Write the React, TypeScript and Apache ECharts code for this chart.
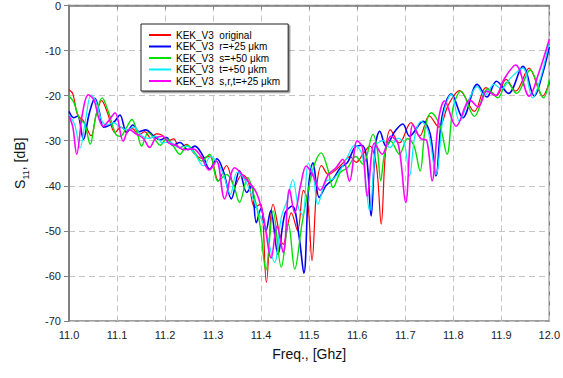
import React, { useEffect, useRef } from "react";
import * as echarts from "echarts";

type Pt = [number, number];

const seriesNames = [
  "KEK_V3  original",
  "KEK_V3  r=+25 μkm",
  "KEK_V3  s=+50 μkm",
  "KEK_V3  t=+50 μkm",
  "KEK_V3  s,r,t=+25 μkm",
];

const original: Pt[] = [
  [11.000,-18.7],[11.008,-19.6],[11.018,-24.3],[11.030,-25.6],[11.046,-28.9],[11.057,-24.0],[11.068,-21.1],[11.080,-23.8],[11.096,-28.2],[11.108,-27.0],[11.120,-27.9],[11.132,-27.3],[11.145,-28.7],[11.158,-28.0],[11.170,-29.4],[11.182,-28.5],[11.194,-28.8],[11.206,-30.0],[11.218,-29.6],[11.230,-31.6],[11.245,-30.8],[11.260,-32.8],[11.277,-33.9],[11.293,-33.4],[11.311,-38.9],[11.328,-35.5],[11.345,-40.0],[11.360,-37.5],[11.372,-38.6],[11.387,-44.8],[11.399,-44.0],[11.411,-61.4],[11.425,-44.1],[11.446,-53.0],[11.463,-46.0],[11.476,-50.0],[11.488,-41.0],[11.497,-43.5],[11.506,-56.6],[11.516,-40.0],[11.526,-35.5],[11.540,-37.5],[11.555,-36.5],[11.570,-35.0],[11.585,-33.5],[11.598,-34.8],[11.612,-33.0],[11.626,-31.2],[11.640,-35.5],[11.650,-48.5],[11.659,-32.5],[11.669,-27.6],[11.688,-30.5],[11.712,-26.0],[11.730,-29.0],[11.750,-24.5],[11.770,-27.0],[11.790,-22.0],[11.813,-18.9],[11.844,-23.5],[11.868,-18.2],[11.890,-20.0],[11.910,-16.4],[11.930,-19.0],[11.958,-13.9],[11.986,-20.1],[12.000,-17.0],
];

const r25: Pt[] = [
  [11.000,-23.5],[11.010,-24.9],[11.018,-24.5],[11.030,-29.7],[11.042,-24.0],[11.054,-20.6],[11.063,-23.5],[11.072,-27.0],[11.085,-26.5],[11.096,-25.6],[11.106,-24.3],[11.120,-28.2],[11.133,-26.5],[11.146,-28.0],[11.160,-27.6],[11.175,-28.8],[11.190,-29.8],[11.203,-29.3],[11.216,-31.0],[11.231,-30.4],[11.248,-32.0],[11.262,-31.2],[11.278,-33.2],[11.293,-36.3],[11.308,-34.0],[11.322,-37.0],[11.338,-42.9],[11.355,-36.7],[11.370,-41.5],[11.380,-40.0],[11.390,-48.2],[11.400,-45.0],[11.410,-50.0],[11.420,-45.5],[11.435,-55.2],[11.450,-46.0],[11.465,-44.5],[11.478,-50.5],[11.489,-59.4],[11.499,-40.0],[11.508,-34.9],[11.521,-42.6],[11.535,-40.0],[11.550,-38.5],[11.565,-36.0],[11.580,-34.8],[11.595,-31.5],[11.610,-31.0],[11.620,-34.0],[11.629,-46.7],[11.638,-31.0],[11.647,-27.9],[11.660,-31.2],[11.678,-28.0],[11.695,-26.3],[11.709,-29.0],[11.737,-25.7],[11.752,-28.5],[11.764,-37.8],[11.777,-24.5],[11.796,-19.6],[11.820,-24.9],[11.850,-17.5],[11.870,-20.3],[11.890,-16.8],[11.915,-19.5],[11.945,-13.5],[11.969,-20.1],[11.985,-15.5],[12.000,-9.2],
];

const s50: Pt[] = [
  [11.000,-20.1],[11.010,-21.5],[11.022,-25.2],[11.033,-26.3],[11.044,-30.8],[11.056,-24.5],[11.069,-20.5],[11.082,-23.6],[11.097,-28.5],[11.107,-29.0],[11.120,-27.0],[11.131,-25.3],[11.142,-28.2],[11.151,-31.2],[11.165,-28.2],[11.178,-29.6],[11.190,-31.0],[11.203,-29.6],[11.216,-31.0],[11.231,-33.0],[11.246,-31.0],[11.260,-32.4],[11.276,-34.5],[11.293,-33.0],[11.310,-39.0],[11.328,-37.5],[11.343,-40.0],[11.355,-43.7],[11.372,-38.2],[11.386,-42.5],[11.398,-49.0],[11.410,-58.7],[11.425,-45.5],[11.442,-58.1],[11.457,-48.5],[11.470,-58.5],[11.485,-48.5],[11.500,-40.0],[11.512,-35.0],[11.525,-32.7],[11.538,-36.0],[11.550,-40.4],[11.565,-37.0],[11.580,-36.0],[11.597,-33.5],[11.612,-35.2],[11.633,-28.6],[11.642,-32.0],[11.649,-38.9],[11.657,-33.0],[11.670,-30.1],[11.688,-33.0],[11.705,-29.5],[11.718,-31.0],[11.731,-36.7],[11.742,-27.0],[11.754,-23.8],[11.772,-26.5],[11.787,-33.0],[11.800,-22.5],[11.816,-19.0],[11.844,-24.6],[11.872,-18.5],[11.893,-20.5],[11.912,-17.0],[11.932,-19.5],[11.960,-14.3],[11.988,-20.5],[12.000,-16.4],
];

const t50: Pt[] = [
  [11.000,-24.2],[11.012,-26.5],[11.023,-31.6],[11.035,-25.0],[11.046,-19.8],[11.057,-21.5],[11.068,-25.5],[11.080,-26.5],[11.092,-26.0],[11.105,-26.8],[11.120,-27.6],[11.135,-27.0],[11.150,-28.8],[11.165,-29.5],[11.180,-29.0],[11.195,-30.5],[11.210,-30.3],[11.228,-31.5],[11.245,-31.2],[11.262,-33.0],[11.280,-35.6],[11.295,-33.5],[11.310,-35.0],[11.323,-38.0],[11.336,-41.9],[11.350,-37.0],[11.365,-38.5],[11.380,-42.0],[11.395,-46.0],[11.410,-50.0],[11.428,-57.0],[11.442,-47.0],[11.455,-43.0],[11.466,-38.6],[11.478,-45.0],[11.487,-46.5],[11.498,-35.0],[11.508,-37.0],[11.518,-44.1],[11.535,-39.0],[11.550,-38.5],[11.565,-36.5],[11.580,-33.5],[11.595,-31.0],[11.610,-33.0],[11.626,-45.6],[11.640,-31.0],[11.655,-30.0],[11.668,-31.5],[11.685,-29.5],[11.698,-30.5],[11.709,-37.8],[11.720,-29.0],[11.733,-25.7],[11.748,-28.0],[11.764,-37.5],[11.780,-24.0],[11.796,-19.6],[11.813,-25.7],[11.832,-21.0],[11.850,-18.0],[11.865,-20.0],[11.885,-17.5],[11.900,-18.5],[11.920,-16.0],[11.945,-13.9],[11.965,-20.5],[11.982,-16.0],[12.000,-8.0],
];

const srt25: Pt[] = [
  [11.000,-24.5],[11.008,-27.0],[11.016,-33.0],[11.028,-24.0],[11.040,-19.8],[11.052,-21.0],[11.062,-25.0],[11.071,-26.8],[11.083,-25.5],[11.096,-23.8],[11.113,-30.1],[11.125,-27.5],[11.140,-28.5],[11.155,-29.5],[11.168,-31.5],[11.180,-29.5],[11.195,-29.0],[11.207,-30.5],[11.222,-31.0],[11.240,-32.0],[11.258,-31.8],[11.275,-33.5],[11.292,-36.5],[11.307,-34.5],[11.324,-42.9],[11.345,-36.0],[11.366,-38.2],[11.390,-41.5],[11.405,-47.0],[11.421,-56.0],[11.433,-49.0],[11.446,-54.8],[11.459,-40.8],[11.470,-46.0],[11.482,-40.0],[11.494,-35.6],[11.507,-37.5],[11.523,-41.0],[11.540,-37.5],[11.556,-36.0],[11.570,-34.1],[11.584,-39.0],[11.600,-30.0],[11.611,-31.5],[11.621,-42.3],[11.636,-30.5],[11.652,-33.0],[11.670,-29.0],[11.686,-31.0],[11.701,-43.7],[11.716,-26.4],[11.732,-29.5],[11.745,-30.0],[11.756,-38.9],[11.770,-25.0],[11.782,-21.2],[11.806,-26.8],[11.835,-21.0],[11.852,-22.5],[11.870,-19.0],[11.888,-20.0],[11.905,-16.5],[11.930,-13.2],[11.958,-20.1],[11.978,-15.0],[12.000,-7.5],
];

const allData = [original, r25, s50, t50, srt25];
const colors = ["#ff0000", "#0000ff", "#00e000", "#00f0ff", "#ff00ff"];
const widths = [1.2, 1.6, 1.4, 1.2, 1.6];

const FONT = "'Liberation Sans', Arial, sans-serif";

export default function App() {
  const ref = useRef<HTMLDivElement>(null);
  useEffect(() => {
    if (!ref.current) return;
    const chart = echarts.init(ref.current, undefined, { renderer: "svg" });
    chart.setOption({
      animation: false,
      textStyle: { fontFamily: FONT },
      grid: {
        left: 69,
        right: 13,
        top: 4,
        bottom: 57,
        show: true,
        borderColor: "#808080",
        borderWidth: 1.5,
        backgroundColor: "transparent",
      },
      legend: {
        orient: "vertical",
        left: 141,
        top: 24,
        padding: [6, 8, 5, 7],
        itemGap: 1.5,
        itemWidth: 22,
        itemHeight: 12,
        backgroundColor: "#ffffff",
        borderColor: "#222",
        borderWidth: 1,
        shadowColor: "rgba(0,0,0,0.45)",
        shadowOffsetX: 1.5,
        shadowOffsetY: 1.5,
        shadowBlur: 0,
        itemStyle: { color: "transparent", borderColor: "transparent", borderWidth: 0, opacity: 0 },
        textStyle: { fontSize: 10, color: "#000", fontFamily: FONT },
        data: seriesNames,
      },
      xAxis: {
        type: "value",
        min: 11,
        max: 12,
        interval: 0.1,
        name: "Freq., [Ghz]",
        nameLocation: "middle",
        nameGap: 26,
        nameTextStyle: { fontSize: 14, color: "#111", fontFamily: FONT },
        axisLine: { show: true, lineStyle: { color: "#808080", width: 1.5 } },
        axisTick: { show: true, length: 4, lineStyle: { color: "#808080" } },
        axisLabel: {
          fontSize: 11,
          color: "#222",
          margin: 8,
          fontFamily: FONT,
          formatter: (v: number) => v.toFixed(1),
        },
        splitLine: {
          show: true,
          lineStyle: { color: "#c4c4c4", type: [6, 4], width: 1 },
        },
      },
      yAxis: {
        type: "value",
        min: -70,
        max: 0,
        interval: 10,
        name: "{n|S}{s|11}{n|, [dB]}",
        nameLocation: "middle",
        nameGap: 42,
        nameRotate: 90,
        nameTextStyle: {
          fontFamily: FONT,
          color: "#111",
          rich: {
            n: { fontSize: 14, fontFamily: FONT, color: "#111", verticalAlign: "bottom", lineHeight: 18 },
            s: { fontSize: 9, fontFamily: FONT, color: "#111", verticalAlign: "bottom", lineHeight: 12, padding: [0, 0, -3, 0] },
          },
        },
        axisLine: { show: true, lineStyle: { color: "#808080", width: 2 } },
        axisTick: { show: true, length: 5, lineStyle: { color: "#808080" } },
        axisLabel: { fontSize: 11, color: "#222", margin: 8, fontFamily: FONT },
        splitLine: {
          show: true,
          lineStyle: { color: "#c4c4c4", type: [6, 4], width: 1 },
        },
      },
      series: allData.map((d, i) => ({
        name: seriesNames[i],
        type: "line",
        data: d,
        symbol: "none",
        showSymbol: false,
        smooth: 0.35,
        color: colors[i],
        lineStyle: { color: colors[i], width: widths[i] },
        z: 2 + i,
      })),
    });
    return () => chart.dispose();
  }, []);
  return (
    <div
      ref={ref}
      style={{ position: "fixed", left: 0, top: 0, width: 563, height: 378, background: "#fff" }}
    />
  );
}
